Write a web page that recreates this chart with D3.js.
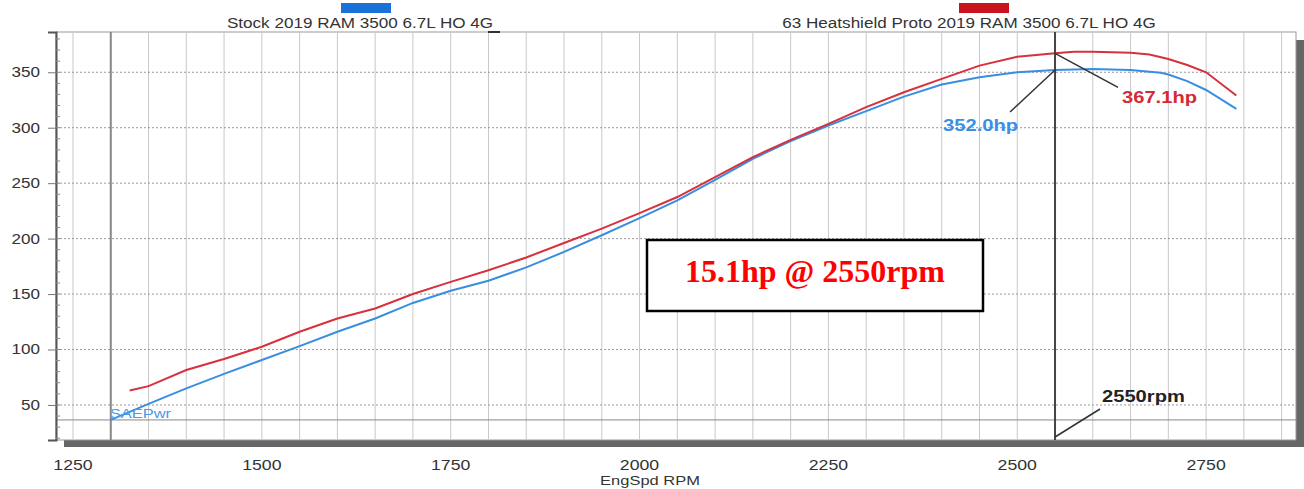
<!DOCTYPE html>
<html>
<head>
<meta charset="utf-8">
<script src="https://cdn.jsdelivr.net/npm/d3@7"></script>
<style>
  body { margin: 0; background: #fff; }
  text { font-family: "Liberation Sans", Arial, sans-serif; }
</style>
</head>
<body>
<script>
// stock run
var stockRpm = [1300, 1350, 1400, 1450, 1500, 1550, 1600, 1650, 1700, 1750, 1800, 1850, 1900, 1950,
                2000, 2050, 2100, 2150, 2200, 2250, 2300, 2350, 2400, 2450, 2500, 2550, 2600, 2650,
                2690, 2700, 2725, 2750, 2790];
var stockHp = [36.5, 51, 65, 78, 90.5, 103, 116, 128, 142, 153, 162, 174, 188, 203,
               218.5, 234.5, 253, 272, 288, 302, 315, 328, 339, 345.5, 350, 352, 353, 352,
               349.5, 348, 342, 334, 317];
// heatshield run
var protoRpm = [1325, 1350, 1400, 1450, 1500, 1550, 1600, 1650, 1700, 1750, 1800, 1850, 1900, 1950,
                2000, 2050, 2100, 2150, 2200, 2250, 2300, 2350, 2400, 2450, 2500, 2550, 2575, 2600,
                2650, 2675, 2700, 2725, 2750, 2790];
var protoHp = [63, 67, 81.5, 91.5, 102.5, 116, 128, 137, 150, 161, 171.5, 183, 196, 209,
               223, 237.5, 255.5, 273.5, 289, 303.5, 318.5, 332, 344, 356, 364, 367.1, 368.5, 368.5,
               367.5, 366, 362, 356.5, 350, 329];

var seriesNames = ['Stock 2019 RAM 3500 6.7L HO 4G', '63 Heatshield Proto 2019 RAM 3500 6.7L HO 4G'];
var xTicks = [1250, 1500, 1750, 2000, 2250, 2500, 2750];
var yTicks = [50, 100, 150, 200, 250, 300, 350];
var cursorRpm = 2550;
var cursorStock = 352.0, cursorProto = 367.1;
var startRpm = 1300, refHp = 36.5;

var width = 1304, height = 489;
var pLeft = 56, pRight = 1296, pTop = 32, pBottom = 440;
// the source picture is stretched sideways, so text is widened to match
var stretch = 1.22;

var x = d3.scaleLinear().domain([1227.5, 2869]).range([pLeft, pRight]);
var y = d3.scaleLinear().domain([18.4, 386.3]).range([pBottom, pTop]);

var svg = d3.select('body').append('svg')
    .attr('width', width)
    .attr('height', height);

function widen(sel) {
    sel.each(function () {
        var w = this.getComputedTextLength();
        d3.select(this).attr('textLength', w * stretch).attr('lengthAdjust', 'spacingAndGlyphs');
    });
    return sel;
}

// frame with shadow
svg.append('rect').attr('x', pLeft + 8).attr('y', pTop + 8)
    .attr('width', pRight - pLeft + 8).attr('height', pBottom - pTop - 1)
    .attr('fill', '#666');
svg.append('rect').attr('x', pLeft).attr('y', pTop)
    .attr('width', pRight - pLeft).attr('height', pBottom - pTop)
    .attr('fill', '#fff').attr('stroke', '#999').attr('stroke-width', 1);

// grid
var vgrid = d3.range(1250, 2851, 50);
svg.append('g').selectAll('line').data(vgrid).enter().append('line')
    .attr('x1', function (d) { return x(d); })
    .attr('x2', function (d) { return x(d); })
    .attr('y1', pTop).attr('y2', pBottom)
    .attr('stroke', '#c8c8c8').attr('stroke-width', 1);

svg.append('g').selectAll('line').data(yTicks).enter().append('line')
    .attr('x1', pLeft).attr('x2', pRight)
    .attr('y1', function (d) { return y(d); })
    .attr('y2', function (d) { return y(d); })
    .attr('stroke', '#999').attr('stroke-width', 1)
    .attr('stroke-dasharray', '2,2');

// reference lines
svg.append('line').attr('x1', pLeft).attr('x2', pRight)
    .attr('y1', y(refHp)).attr('y2', y(refHp))
    .attr('stroke', '#888').attr('stroke-width', 1);
svg.append('line').attr('x1', x(startRpm)).attr('x2', x(startRpm))
    .attr('y1', pTop).attr('y2', pBottom)
    .attr('stroke', '#888').attr('stroke-width', 2);

// left axis
var yAxis = d3.axisLeft(y).tickValues(yTicks).tickSize(8).tickPadding(8);
var ya = svg.append('g').attr('transform', 'translate(' + pLeft + ',0)').call(yAxis);
ya.select('.domain').attr('stroke', '#555').attr('stroke-width', 2);
ya.selectAll('.tick line').attr('stroke', '#777');
ya.selectAll('text').attr('font-size', 14).attr('fill', '#333')
    .style('font-family', '"Liberation Sans", Arial, sans-serif');
widen(ya.selectAll('text'));
// minor ticks
svg.append('g').selectAll('line').data(d3.range(20, 381, 10)).enter().append('line')
    .attr('x1', pLeft).attr('x2', pLeft + 4)
    .attr('y1', function (d) { return y(d); })
    .attr('y2', function (d) { return y(d); })
    .attr('stroke', '#888');

// bottom axis labels
widen(svg.append('g').selectAll('text').data(xTicks).enter().append('text')
    .attr('x', function (d) { return x(d); })
    .attr('y', 470)
    .attr('text-anchor', 'middle')
    .attr('font-size', 14.5).attr('fill', '#333')
    .text(function (d) { return d; }));
widen(svg.append('text').attr('x', 650).attr('y', 485)
    .attr('text-anchor', 'middle').attr('font-size', 13.5).attr('fill', '#333')
    .text('EngSpd RPM'));

// curves
var line = d3.line()
    .x(function (d) { return x(d[0]); })
    .y(function (d) { return y(d[1]); });

var stock = stockRpm.map(function (r, i) { return [r, stockHp[i]]; });
var proto = protoRpm.map(function (r, i) { return [r, protoHp[i]]; });

svg.append('path').datum(stock).attr('d', line)
    .attr('fill', 'none').attr('stroke', '#3a8ee0').attr('stroke-width', 2);
svg.append('path').datum(proto).attr('d', line)
    .attr('fill', 'none').attr('stroke', '#d8303c').attr('stroke-width', 2);

// cursor
var cx = x(cursorRpm);
svg.append('line').attr('x1', cx).attr('x2', cx).attr('y1', pTop).attr('y2', pBottom)
    .attr('stroke', '#444').attr('stroke-width', 2);
svg.append('line').attr('x1', cx).attr('y1', y(cursorStock)).attr('x2', cx - 45).attr('y2', y(cursorStock) + 42)
    .attr('stroke', '#333').attr('stroke-width', 1.5);
svg.append('line').attr('x1', cx).attr('y1', y(cursorProto)).attr('x2', cx + 63).attr('y2', y(cursorProto) + 34)
    .attr('stroke', '#333').attr('stroke-width', 1.5);
svg.append('line').attr('x1', cx).attr('y1', pBottom - 3).attr('x2', cx + 45).attr('y2', pBottom - 31)
    .attr('stroke', '#333').attr('stroke-width', 1.5);

widen(svg.append('text').attr('x', cx - 37).attr('y', y(cursorStock) + 61)
    .attr('text-anchor', 'end').attr('font-size', 16.5).attr('font-weight', 'bold')
    .attr('fill', '#3a8ee6').text(cursorStock.toFixed(1) + 'hp'));
widen(svg.append('text').attr('x', cx + 67).attr('y', y(cursorProto) + 50)
    .attr('font-size', 16.5).attr('font-weight', 'bold')
    .attr('fill', '#d42a35').text(cursorProto.toFixed(1) + 'hp'));
widen(svg.append('text').attr('x', cx + 47).attr('y', 402)
    .attr('font-size', 16.5).attr('font-weight', 'bold')
    .attr('fill', '#222').text(cursorRpm + 'rpm'));

widen(svg.append('text').attr('x', x(startRpm) - 1).attr('y', 418)
    .attr('font-size', 13.5).attr('fill', '#4a9ae6').text('SAEPwr'));

// gain box
svg.append('rect').attr('x', 647).attr('y', 240).attr('width', 336).attr('height', 71)
    .attr('fill', '#fff').attr('stroke', '#000').attr('stroke-width', 2.5);
svg.append('text').attr('x', 815).attr('y', 282)
    .attr('text-anchor', 'middle')
    .style('font-family', '"Liberation Serif", "Times New Roman", serif')
    .attr('font-size', 32).attr('font-weight', 'bold').attr('fill', '#ff0000')
    .text((cursorProto - cursorStock).toFixed(1) + 'hp @ ' + cursorRpm + 'rpm');

// legend
var legend = [
    { name: seriesNames[0], color: '#1a72d8', rx: 341, tx: 360 },
    { name: seriesNames[1], color: '#c8141e', rx: 959, tx: 969 }
];
legend.forEach(function (l) {
    svg.append('rect').attr('x', l.rx).attr('y', 3).attr('width', 50).attr('height', 10)
        .attr('fill', l.color);
    widen(svg.append('text').attr('x', l.tx).attr('y', 28).attr('text-anchor', 'middle')
        .attr('font-size', 14).attr('fill', '#333').text(l.name));
});
svg.append('line').attr('x1', 488).attr('x2', 500).attr('y1', pTop).attr('y2', pTop)
    .attr('stroke', '#333').attr('stroke-width', 2);
</script>
</body>
</html>
